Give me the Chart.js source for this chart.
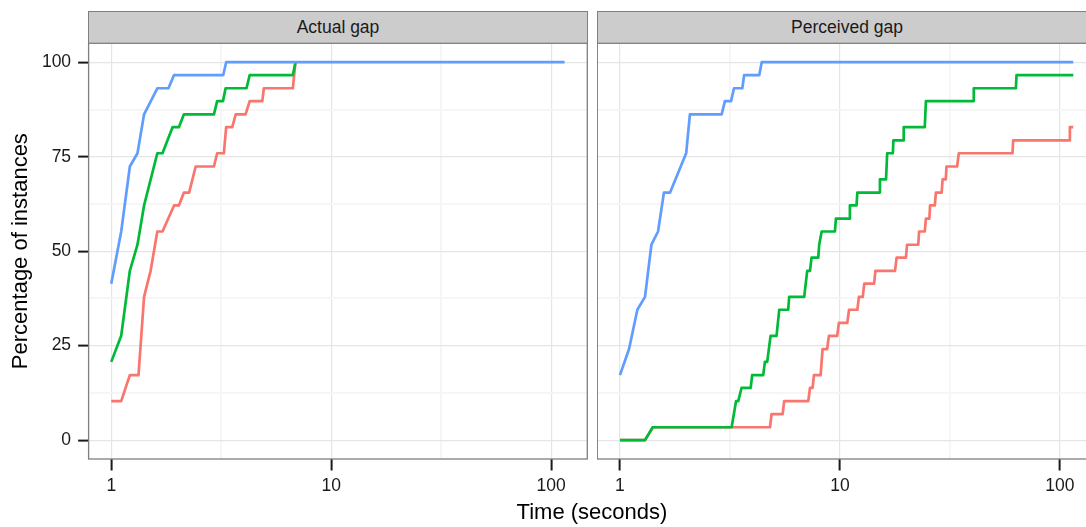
<!DOCTYPE html>
<html>
<head>
<meta charset="utf-8">
<script src="https://cdn.jsdelivr.net/npm/chart.js@4.4.1/dist/chart.umd.min.js"></script>
<style>
  html, body { margin: 0; padding: 0; background: #fff; }
  #figure { position: relative; width: 1086px; height: 527px; overflow: hidden;
            font-family: "Liberation Sans", Arial, sans-serif; }
  .strip { position: absolute; top: 11px; height: 32px; background: #cccccc;
           border: 1px solid #7f7f7f; border-bottom: none; box-sizing: border-box;
           font-size: 17.5px; color: #1a1a1a; text-align: center; line-height: 31px; }
  .panel { position: absolute; top: 42px; }
  #xtitle { position: absolute; top: 499px; left: 88px; width: 1008px; text-align: center;
            font-size: 22px; color: #000; }
</style>
</head>
<body>
<div id="figure">
  <div class="strip" style="left:88px;width:500px;">Actual gap</div>
  <div class="strip" style="left:597px;width:500px;">Perceived gap</div>
  <canvas id="actual" class="panel" style="left:0px;" width="588" height="485"></canvas>
  <canvas id="perceived" class="panel" style="left:597px;" width="500" height="485"></canvas>
  <div id="xtitle">Time (seconds)</div>
</div>
<script>
// axis ticks (blank label = minor grid line only)
const xTickValues = [1, 3.1623, 10, 31.623, 100];
const xTickLabels = ['1', '', '10', '', '100'];
const yTickValues = [0, 12.5, 25, 37.5, 50, 62.5, 75, 87.5, 100];
const yTickLabels = ['0', '', '25', '', '50', '', '75', '', '100'];
const xRange = [0.789, 145.9];
const yRange = [-5, 105];

// Actual gap: time (s) vs cumulative percentage
const actualBlueX = [1.0, 1.11, 1.215, 1.316, 1.41, 1.62, 1.82, 1.93, 3.23, 3.33, 115];
const actualBlueY = [41.4, 55.2, 72.4, 75.9, 86.2, 93.1, 93.1, 96.6, 96.6, 100, 100];
const actualGreenX = [1.0, 1.11, 1.215, 1.316, 1.41, 1.62, 1.71, 1.90, 2.03, 2.14, 2.93, 3.03,
                      3.22, 3.31, 4.12, 4.26, 6.69, 6.88];
const actualGreenY = [20.7, 27.6, 44.8, 51.7, 62.1, 75.9, 75.9, 82.8, 82.8, 86.2, 86.2, 89.7,
                      89.7, 93.1, 93.1, 96.6, 96.6, 100];
const actualRedX = [1.0, 1.11, 1.215, 1.33, 1.41, 1.51, 1.62, 1.71, 1.93, 2.03, 2.14, 2.26,
                    2.42, 2.93, 3.03, 3.25, 3.33, 3.55, 3.68, 4.08, 4.26, 4.86, 4.94, 6.69, 6.88];
const actualRedY = [10.3, 10.3, 17.2, 17.2, 37.9, 44.8, 55.2, 55.2, 62.1, 62.1, 65.5, 65.5,
                    72.4, 72.4, 75.9, 75.9, 82.8, 82.8, 86.2, 86.2, 89.7, 89.7, 93.1, 93.1, 100];

// Perceived gap
const perceivedBlueX = [1.0, 1.10, 1.20, 1.30, 1.39, 1.49, 1.585, 1.69, 2.0, 2.08, 2.90, 3.0,
                        3.20, 3.30, 3.60, 3.67, 4.30, 4.41, 115];
const perceivedBlueY = [17.2, 24.1, 34.5, 37.9, 51.7, 55.2, 65.5, 65.5, 75.9, 86.2, 86.2, 89.7,
                        89.7, 93.1, 93.1, 96.6, 96.6, 100, 100];
const perceivedGreenX = [1.0, 1.30, 1.41, 3.22, 3.37, 3.45, 3.57, 3.93, 3.99, 4.48, 4.56, 4.67,
                         4.84, 5.15, 5.30, 5.82, 5.88, 6.88, 7.10, 7.31, 7.43, 7.97, 8.05, 8.26,
                         9.49, 9.59, 11.0, 11.1, 11.9, 12.0, 15.1, 15.2, 16.2, 16.4, 17.4, 17.5,
                         19.4, 19.5, 24.3, 24.6, 40.6, 40.6, 63.1, 63.5, 115];
const perceivedGreenY = [0, 0, 3.4, 3.4, 10.3, 10.3, 13.8, 13.8, 17.2, 17.2, 20.7, 20.7,
                         27.6, 27.6, 34.5, 34.5, 37.9, 37.9, 44.8, 44.8, 48.3, 48.3, 51.7, 55.2,
                         55.2, 58.6, 58.6, 62.1, 62.1, 65.5, 65.5, 69.0, 69.0, 75.9, 75.9, 79.3,
                         79.3, 82.8, 82.8, 89.7, 89.7, 93.1, 93.1, 96.6, 96.6];
const perceivedRedX = [1.0, 1.30, 1.41, 4.81, 4.89, 5.49, 5.58, 7.18, 7.31, 7.51, 7.62, 8.17,
                       8.34, 8.75, 8.91, 9.72, 9.89, 10.8, 11.0, 12.0, 12.2, 12.7, 12.9, 14.3,
                       14.5, 17.8, 18.1, 19.95, 20.2, 22.7, 22.9, 24.3, 24.6, 25.5, 25.7, 27.0,
                       27.3, 29.0, 29.3, 30.3, 30.5, 34.1, 34.7, 60.9, 61.3, 110, 111, 115];
const perceivedRedY = [0, 0, 3.4, 3.4, 6.9, 6.9, 10.3, 10.3, 13.8, 13.8, 17.2, 17.2,
                       24.1, 24.1, 27.6, 27.6, 31.0, 31.0, 34.5, 34.5, 37.9, 37.9, 41.4, 41.4,
                       44.8, 44.8, 48.3, 48.3, 51.7, 51.7, 55.2, 55.2, 58.6, 58.6, 62.1, 62.1,
                       65.5, 65.5, 69.0, 69.0, 72.4, 72.4, 75.9, 75.9, 79.3, 79.3, 82.8, 82.8];

const FONT = '"Liberation Sans", Arial, sans-serif';
const RED = '#F8766D', GREEN = '#00BA38', BLUE = '#619CFF';

function points(xs, ys) {
    return xs.map((x, i) => ({ x: x, y: ys[i] }));
}

function lineSet(label, xs, ys, color) {
    return { label: label, data: points(xs, ys), borderColor: color, backgroundColor: color, fill: false };
}

// grey frame round the plotting area, drawn over the lines
const panelBorder = {
    id: 'panelBorder',
    afterDraw(chart) {
        const a = chart.chartArea, ctx = chart.ctx;
        ctx.save();
        ctx.strokeStyle = '#7f7f7f';
        ctx.lineWidth = 1.3;
        ctx.strokeRect(a.left, a.top, a.right - a.left, a.bottom - a.top);
        ctx.restore();
    }
};

// keep label overhang from shrinking the plotting area
function noLabelPadding(s) {
    s.paddingTop = 0;
    s.paddingBottom = 0;
    s.paddingLeft = 0;
    s.paddingRight = 0;
}

function panelOptions(withYAxis) {
    const xMajor = i => xTickLabels[i] !== '';
    const yMajor = i => yTickLabels[i] !== '';
    return {
        responsive: false,
        animation: false,
        devicePixelRatio: 1,
        layout: { padding: withYAxis ? { top: 1.3, right: 0.7, left: 0, bottom: 0 }
                                     : { top: 1.3, right: 1, left: 0.3, bottom: 0 } },
        plugins: { legend: { display: false }, tooltip: { enabled: false } },
        elements: {
            point: { radius: 0, hoverRadius: 0 },
            line: { tension: 0, borderWidth: 2.7, borderJoinStyle: 'round', borderCapStyle: 'butt' }
        },
        scales: {
            x: {
                type: 'logarithmic',
                min: xRange[0],
                max: xRange[1],
                afterBuildTicks: s => { s.ticks = xTickValues.map(v => ({ value: v })); },
                afterFit: s => { s.height = 68; noLabelPadding(s); },
                border: { display: false },
                grid: {
                    color: c => xMajor(c.index) ? '#e5e5e5' : '#f5f5f5',
                    lineWidth: c => xMajor(c.index) ? 1.2 : 1.8,
                    tickColor: c => xMajor(c.index) ? '#1a1a1a' : 'rgba(0,0,0,0)',
                    tickWidth: 2,
                    tickLength: 11.5
                },
                ticks: {
                    autoSkip: false, maxRotation: 0, minRotation: 0, padding: 5,
                    color: '#1a1a1a', font: { family: FONT, size: 17.5 },
                    callback: (v, i) => xTickLabels[i]
                }
            },
            y: {
                type: 'linear',
                min: yRange[0],
                max: yRange[1],
                afterBuildTicks: s => { s.ticks = yTickValues.map(v => ({ value: v })); },
                afterFit: s => { s.width = withYAxis ? 88.6 : 0; noLabelPadding(s); },
                border: { display: false },
                grid: {
                    color: c => yMajor(c.index) ? '#e5e5e5' : '#f5f5f5',
                    lineWidth: c => yMajor(c.index) ? 1.2 : 1.8,
                    tickColor: c => yMajor(c.index) ? '#1a1a1a' : 'rgba(0,0,0,0)',
                    tickWidth: 2,
                    tickLength: withYAxis ? 10.5 : 0,
                    drawTicks: withYAxis
                },
                ticks: {
                    display: withYAxis, padding: 7,
                    color: '#1a1a1a', font: { family: FONT, size: 17.5 },
                    callback: (v, i) => yTickLabels[i]
                },
                title: {
                    display: withYAxis,
                    text: 'Percentage of instances',
                    color: '#000',
                    font: { family: FONT, size: 22 },
                    padding: { top: 8, bottom: 0 }
                }
            }
        }
    };
}

new Chart(document.getElementById('actual'), {
    type: 'line',
    data: { datasets: [
        lineSet('blue', actualBlueX, actualBlueY, BLUE),
        lineSet('green', actualGreenX, actualGreenY, GREEN),
        lineSet('red', actualRedX, actualRedY, RED)
    ] },
    options: panelOptions(true),
    plugins: [panelBorder]
});

new Chart(document.getElementById('perceived'), {
    type: 'line',
    data: { datasets: [
        lineSet('blue', perceivedBlueX, perceivedBlueY, BLUE),
        lineSet('green', perceivedGreenX, perceivedGreenY, GREEN),
        lineSet('red', perceivedRedX, perceivedRedY, RED)
    ] },
    options: panelOptions(false),
    plugins: [panelBorder]
});
</script>
</body>
</html>
